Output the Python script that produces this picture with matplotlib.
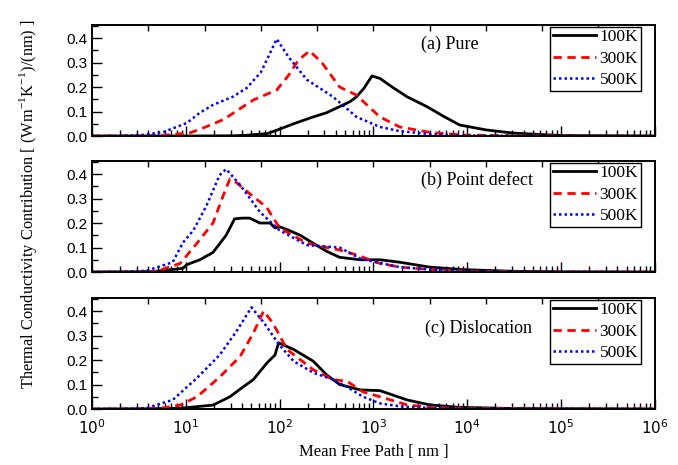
import numpy as np
import matplotlib
matplotlib.use('Agg')
import matplotlib.pyplot as plt
from matplotlib.ticker import LogLocator, MultipleLocator, NullFormatter

plt.rcParams['mathtext.fontset'] = 'custom'
plt.rcParams['mathtext.rm'] = 'Liberation Sans'
plt.rcParams['mathtext.it'] = 'Liberation Sans:italic'

temps = ['100K', '300K', '500K']
panel_labels = ['(a) Pure', '(b) Point defect', '(c) Dislocation']

# log10 of mean free path [nm] and contribution values
pure_100_log = [0, 1.0, 1.5, 1.65, 1.87, 2.0, 2.15, 2.32, 2.5, 2.64, 2.75, 2.82, 2.9, 2.985, 3.07, 3.2, 3.36, 3.57, 3.75, 3.92, 4.2, 4.49, 5, 6]
pure_100_val = [0, 0, 0.001, 0.003, 0.01, 0.028, 0.05, 0.073, 0.095, 0.12, 0.14, 0.16, 0.195, 0.245, 0.235, 0.2, 0.16, 0.12, 0.08, 0.045, 0.025, 0.012, 0.002, 0]
pure_300_log = [0, 0.5, 0.76, 1.04, 1.2, 1.4, 1.72, 1.97, 2.1, 2.2, 2.32, 2.45, 2.64, 2.82, 2.95, 3.07, 3.28, 3.6, 3.95, 4.5, 6]
pure_300_val = [0, 0.001, 0.003, 0.012, 0.035, 0.067, 0.147, 0.188, 0.25, 0.31, 0.347, 0.3, 0.2, 0.167, 0.12, 0.078, 0.037, 0.015, 0.004, 0.001, 0]
pure_500_log = [0, 0.3, 0.51, 0.76, 1.01, 1.15, 1.29, 1.5, 1.65, 1.8, 1.97, 2.1, 2.29, 2.57, 2.82, 3.07, 3.28, 3.6, 3.95, 4.5, 6]
pure_500_val = [0, 0.001, 0.003, 0.016, 0.053, 0.095, 0.127, 0.16, 0.196, 0.26, 0.396, 0.32, 0.23, 0.16, 0.078, 0.037, 0.02, 0.008, 0.002, 0.001, 0]

pd_100_log = [0, 0.5, 0.69, 0.97, 1.01, 1.15, 1.29, 1.43, 1.52, 1.6, 1.68, 1.79, 1.9, 1.95, 2.0, 2.1, 2.22, 2.36, 2.5, 2.64, 2.86, 3.07, 3.28, 3.6, 3.95, 4.49, 5, 6]
pd_100_val = [0, 0.001, 0.003, 0.015, 0.03, 0.05, 0.08, 0.15, 0.217, 0.22, 0.22, 0.2, 0.2, 0.18, 0.185, 0.17, 0.15, 0.117, 0.085, 0.06, 0.05, 0.05, 0.04, 0.02, 0.01, 0.003, 0.001, 0]
pd_300_log = [0, 0.5, 0.69, 0.94, 1.12, 1.29, 1.40, 1.47, 1.54, 1.68, 1.86, 2.0, 2.29, 2.5, 2.64, 2.82, 3.07, 3.28, 3.6, 4.0, 4.5, 6]
pd_300_val = [0, 0.001, 0.003, 0.035, 0.118, 0.2, 0.313, 0.38, 0.365, 0.32, 0.265, 0.18, 0.118, 0.1, 0.09, 0.07, 0.035, 0.02, 0.01, 0.004, 0.001, 0]
pd_500_log = [0, 0.4, 0.58, 0.86, 0.97, 1.08, 1.22, 1.36, 1.43, 1.58, 1.79, 2.0, 2.29, 2.45, 2.64, 2.86, 3.07, 3.28, 3.6, 4.0, 4.5, 6]
pd_500_val = [0, 0.002, 0.005, 0.04, 0.12, 0.17, 0.27, 0.395, 0.42, 0.355, 0.245, 0.17, 0.11, 0.105, 0.1, 0.055, 0.037, 0.02, 0.01, 0.004, 0.001, 0]

dis_100_log = [0, 0.6, 0.94, 1.29, 1.47, 1.61, 1.72, 1.87, 1.95, 1.99, 2.15, 2.36, 2.5, 2.64, 2.86, 3.07, 3.36, 3.6, 3.9, 4.5, 6]
dis_100_val = [0, 0.001, 0.003, 0.016, 0.05, 0.09, 0.12, 0.19, 0.22, 0.27, 0.243, 0.195, 0.14, 0.1, 0.078, 0.075, 0.037, 0.017, 0.007, 0.002, 0]
dis_300_log = [0, 0.5, 0.76, 0.94, 1.12, 1.36, 1.58, 1.72, 1.83, 1.93, 2.08, 2.36, 2.57, 2.72, 2.89, 3.07, 3.36, 3.6, 4.0, 6]
dis_300_val = [0, 0.001, 0.005, 0.016, 0.05, 0.13, 0.215, 0.31, 0.4, 0.35, 0.243, 0.16, 0.12, 0.113, 0.07, 0.05, 0.017, 0.007, 0.002, 0]
dis_500_log = [0, 0.4, 0.58, 0.86, 1.12, 1.36, 1.54, 1.70, 1.83, 1.99, 2.15, 2.36, 2.57, 2.72, 2.89, 3.07, 3.3, 3.6, 4.0, 6]
dis_500_val = [0, 0.001, 0.004, 0.037, 0.127, 0.22, 0.317, 0.415, 0.354, 0.265, 0.195, 0.148, 0.12, 0.09, 0.05, 0.023, 0.01, 0.004, 0.001, 0]

panels = [
    [(pure_100_log, pure_100_val), (pure_300_log, pure_300_val), (pure_500_log, pure_500_val)],
    [(pd_100_log, pd_100_val), (pd_300_log, pd_300_val), (pd_500_log, pd_500_val)],
    [(dis_100_log, dis_100_val), (dis_300_log, dis_300_val), (dis_500_log, dis_500_val)],
]
styles = [dict(color='black', linestyle='-', linewidth=2.0),
          dict(color='red', linestyle=(0, (3, 2)), linewidth=2.0),
          dict(color='blue', linestyle=(0, (1, 1.2)), linewidth=1.8)]
text_pos = [(0.636, 0.83), (0.684, 0.83), (0.686, 0.73)]

fig = plt.figure(figsize=(6.78, 4.65), dpi=100)
bottoms = [0.7075, 0.415, 0.1204]
serif = 'Liberation Serif'
for i, (series, b) in enumerate(zip(panels, bottoms)):
    ax = fig.add_axes([0.1357, b, 0.830, 0.2387])
    # small evenly spaced marks along the top frame
    top = ax.twiny()
    top.set_xlim(0, 1)
    top.set_xticks(np.arange(0.1, 1.0, 0.1))
    top.tick_params(axis='x', direction='in', length=4, width=1, labeltop=False)
    for (lg, val), st, t in zip(series, styles, temps):
        ax.plot(10 ** np.array(lg), val, label=t, **st)
    ax.set_xscale('log')
    ax.set_xlim(1, 1e6)
    ax.set_ylim(0, 0.453)
    ax.yaxis.set_major_locator(MultipleLocator(0.1))
    ax.yaxis.set_minor_locator(MultipleLocator(0.05))
    ax.xaxis.set_major_locator(LogLocator(base=10, numticks=10))
    ax.xaxis.set_minor_locator(LogLocator(base=10, subs=np.arange(2, 10), numticks=20))
    ax.xaxis.set_minor_formatter(NullFormatter())
    ax.tick_params(which='both', direction='in', top=False, right=False)
    ax.tick_params(which='major', length=7, width=1)
    ax.tick_params(which='minor', length=4, width=1)
    ax.tick_params(axis='both', labelsize=11)
    ax.tick_params(axis='x', pad=7)
    ax.yaxis.set_major_formatter(plt.FuncFormatter(lambda v, p: f'{v:.1f}'))
    for lab in ax.get_yticklabels():
        lab.set_fontfamily('Liberation Sans')
    if i < 2:
        ax.set_xticklabels([])
    for a in (ax, top):
        for s in a.spines.values():
            s.set_linewidth(1.2)
    leg = ax.legend(loc='upper right', bbox_to_anchor=(0.975, 0.985),
                    prop={'family': serif, 'size': 12.5}, frameon=True,
                    fancybox=False, edgecolor='black', handlelength=2.5, handletextpad=0.2,
                    borderpad=0.15, labelspacing=0.3, borderaxespad=0.0, framealpha=1)
    leg.get_frame().set_linewidth(1.0)
    leg.remove()
    top.add_artist(leg)
    top.text(text_pos[i][0], text_pos[i][1], panel_labels[i], transform=ax.transAxes,
             ha='center', va='center', fontsize=13, family=serif)
    if i == 2:
        ax.set_xlabel('Mean Free Path [ nm ]', family=serif, fontsize=12, labelpad=5)

fig.text(0.041, 0.56, 'Thermal Conductivity Contribution [ (Wm$^{\\mathregular{-1}}$K$^{\\mathregular{-1}}$)/(nm) ]',
         rotation=90, ha='center', va='center', family=serif, fontsize=11.8)

fig.savefig('out.png', dpi=100)
